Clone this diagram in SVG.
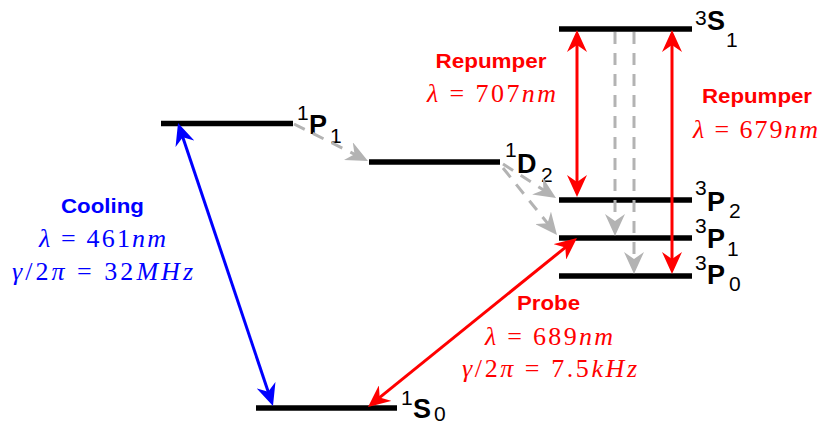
<svg xmlns="http://www.w3.org/2000/svg" width="822" height="425" viewBox="0 0 822 425">
<style>
.lvl{stroke:#000;stroke-width:5.5;stroke-linecap:butt}
.sup{font-family:"Liberation Sans",Arial,sans-serif;font-size:21px;fill:#000}
.big{font-family:"Liberation Sans",Arial,sans-serif;font-size:27px;font-weight:bold;fill:#000}
.lab{font-family:"Liberation Sans",Arial,sans-serif;font-size:21px;font-weight:bold;text-anchor:middle}
.math{font-family:"Liberation Serif","Times New Roman",serif;font-size:26px;text-anchor:middle}
.it{font-style:italic}
.red{fill:#ff0000}
.blue{fill:#0000ff}
.ar{fill:none;stroke-width:3}
.ar-r{stroke:#ff0000;marker-start:url(#hr);marker-end:url(#hr)}
.ar-b{stroke:#0000ff;marker-start:url(#hb);marker-end:url(#hb)}
.ar-g{stroke:#b3b3b3;stroke-dasharray:12 9;marker-end:url(#hg)}
</style>
<defs>
<marker id="hr" markerUnits="userSpaceOnUse" viewBox="0 0 22 20" markerWidth="22" markerHeight="20" refX="12" refY="10" orient="auto-start-reverse"><path d="M22,10 L0,0 L7,10 L0,20 Z" fill="#ff0000"/></marker>
<marker id="hb" markerUnits="userSpaceOnUse" viewBox="0 0 22 20" markerWidth="22" markerHeight="20" refX="12" refY="10" orient="auto-start-reverse"><path d="M22,10 L0,0 L7,10 L0,20 Z" fill="#0000ff"/></marker>
<marker id="hg" markerUnits="userSpaceOnUse" viewBox="0 0 22 20" markerWidth="22" markerHeight="20" refX="12" refY="10" orient="auto"><path d="M22,10 L0,0 L7,10 L0,20 Z" fill="#b3b3b3"/></marker>
</defs>

<g id="level-1S0">
<line class="lvl" x1="256" y1="408" x2="397" y2="408"/>
<text class="sup" x="401" y="405">1</text>
<text class="big" x="413" y="418">S</text>
<text class="sup" x="434" y="421">0</text>
</g>
<g id="level-1P1">
<line class="lvl" x1="161" y1="123.5" x2="293" y2="123.5"/>
<text class="sup" x="297" y="120">1</text>
<text class="big" x="309" y="134">P</text>
<text class="sup" x="330" y="143">1</text>
</g>
<g id="level-1D2">
<line class="lvl" x1="369" y1="162" x2="500" y2="162"/>
<text class="sup" x="505" y="157">1</text>
<text class="big" x="517" y="173">D</text>
<text class="sup" x="541" y="182">2</text>
</g>
<g id="level-3S1">
<line class="lvl" x1="559" y1="29" x2="692" y2="29"/>
<text class="sup" x="695" y="25">3</text>
<text class="big" x="707" y="30">S</text>
<text class="sup" x="726" y="47">1</text>
</g>
<g id="level-3P2">
<line class="lvl" x1="559" y1="200" x2="692" y2="200"/>
<text class="sup" x="695" y="195">3</text>
<text class="big" x="707" y="211">P</text>
<text class="sup" x="729" y="218">2</text>
</g>
<g id="level-3P1">
<line class="lvl" x1="559" y1="238" x2="692" y2="238"/>
<text class="sup" x="695" y="233">3</text>
<text class="big" x="707" y="248">P</text>
<text class="sup" x="727" y="256">1</text>
</g>
<g id="level-3P0">
<line class="lvl" x1="559" y1="276" x2="692" y2="276"/>
<text class="sup" x="695" y="270">3</text>
<text class="big" x="707" y="284">P</text>
<text class="sup" x="729" y="291">0</text>
</g>

<g id="connectors">
<line class="ar ar-b" x1="269.8" y1="396.5" x2="181.2" y2="132.5"/>
<line class="ar ar-r" x1="577" y1="187" x2="577" y2="40"/>
<line class="ar ar-r" x1="672" y1="264" x2="672" y2="40"/>
<line class="ar ar-r" x1="375.8" y1="400.7" x2="569.2" y2="244.3"/>
<line class="ar ar-g" x1="615" y1="32" x2="615" y2="226"/>
<line class="ar ar-g" x1="634" y1="32" x2="634" y2="264"/>
<line class="ar ar-g" x1="294" y1="124" x2="359" y2="156.5"/>
<line class="ar ar-g" x1="503" y1="164" x2="547.6" y2="192.6"/>
<line class="ar ar-g" x1="503" y1="168" x2="550.7" y2="227.2"/>
</g>

<g id="label-cooling">
<text class="lab blue" x="102.5" y="213" textLength="83" lengthAdjust="spacingAndGlyphs">Cooling</text>
<text class="math blue" x="102.5" y="247" textLength="127"><tspan class="it">λ</tspan> = 461<tspan class="it">nm</tspan></text>
<text class="math blue" x="102.5" y="280" textLength="181"><tspan class="it">γ</tspan>/2<tspan class="it">π</tspan> = 32<tspan class="it">MHz</tspan></text>
</g>
<g id="label-repumper707">
<text class="lab red" x="491" y="67.5" textLength="111" lengthAdjust="spacingAndGlyphs">Repumper</text>
<text class="math red" x="491.5" y="102" textLength="129"><tspan class="it">λ</tspan> = 707<tspan class="it">nm</tspan></text>
</g>
<g id="label-repumper679">
<text class="lab red" x="757" y="103" textLength="110" lengthAdjust="spacingAndGlyphs">Repumper</text>
<text class="math red" x="755.5" y="138" textLength="125"><tspan class="it">λ</tspan> = 679<tspan class="it">nm</tspan></text>
</g>
<g id="label-probe">
<text class="lab red" x="548.5" y="310" textLength="63" lengthAdjust="spacingAndGlyphs">Probe</text>
<text class="math red" x="549" y="345" textLength="128"><tspan class="it">λ</tspan> = 689<tspan class="it">nm</tspan></text>
<text class="math red" x="549.5" y="377" textLength="175"><tspan class="it">γ</tspan>/2<tspan class="it">π</tspan> = 7.5<tspan class="it">kHz</tspan></text>
</g>
</svg>
